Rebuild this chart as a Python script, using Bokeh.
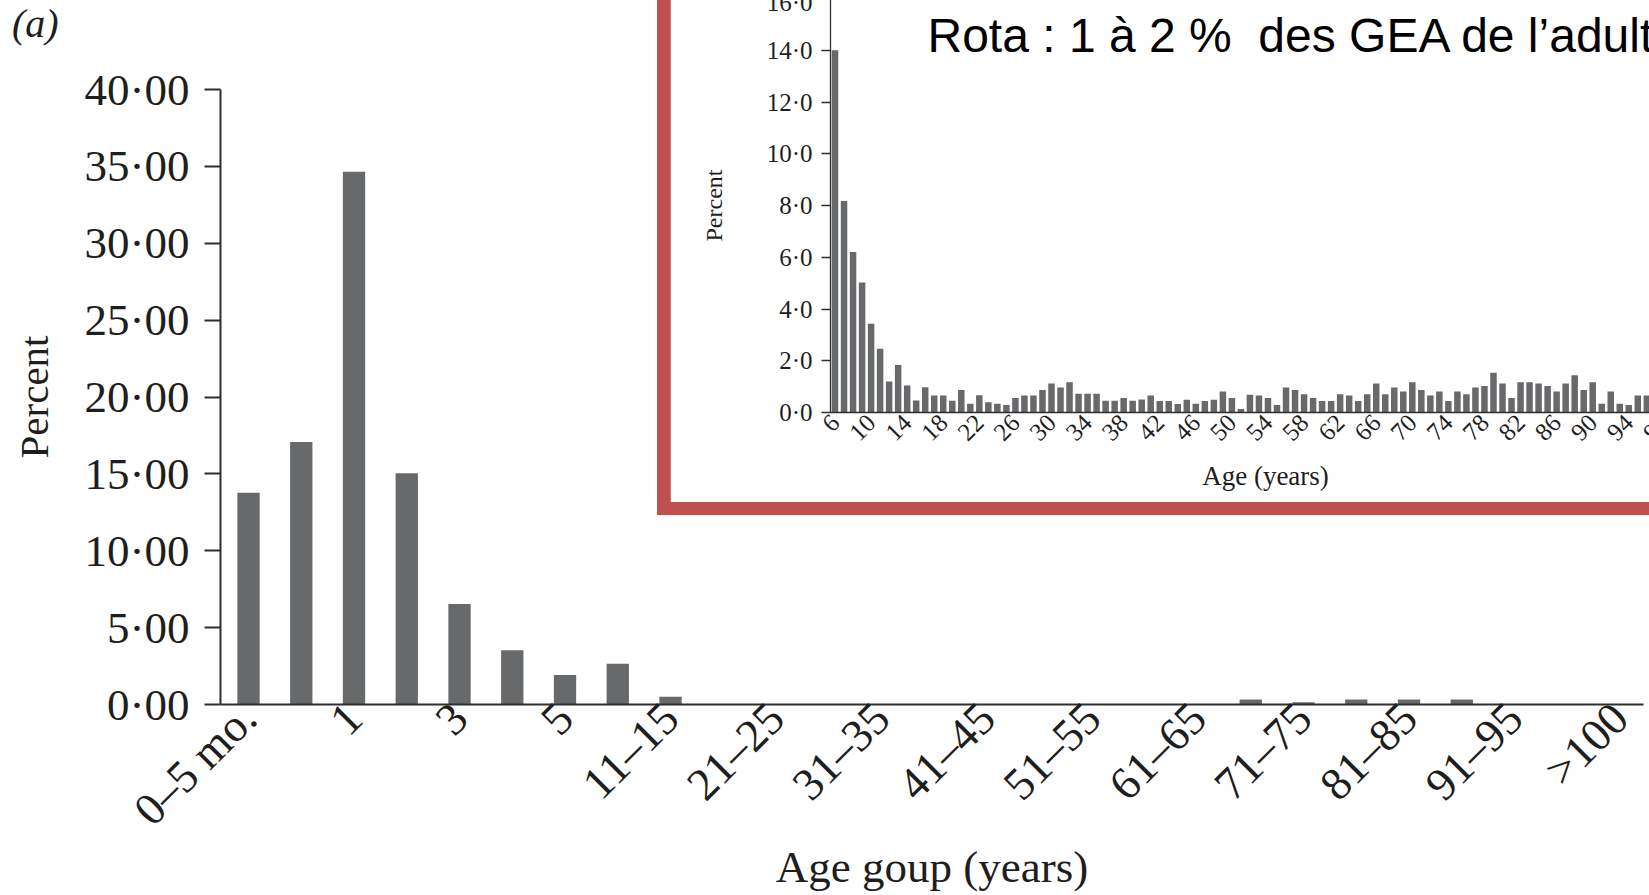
import math
from bokeh.plotting import figure
from bokeh.models import Range1d, FixedTicker, ColumnDataSource, Label, Div, GridBox, Column
from bokeh.embed import file_html
from bokeh.resources import INLINE

# ---------------- data ----------------
age_groups = ["0–5 mo.", "6–11 mo.", "1", "2", "3", "4", "5", "6–10", "11–15",
              "16–20", "21–25", "26–30", "31–35", "36–40", "41–45", "46–50",
              "51–55", "56–60", "61–65", "66–70", "71–75", "76–80", "81–85",
              "86–90", "91–95", "96–100", ">100"]
group_percent = [13.77, 17.07, 34.65, 15.04, 6.54, 3.53, 1.92, 2.65, 0.50,
                 0.0, 0.0, 0.0, 0.0, 0.0, 0.0, 0.0, 0.0, 0.0, 0.0,
                 0.32, 0.15, 0.32, 0.32, 0.32, 0.0, 0.0, 0.0]
main_y_ticks = [0, 5, 10, 15, 20, 25, 30, 35, 40]

inset_ages = list(range(6, 97))
inset_percent = [14.0, 8.17, 6.2, 5.02, 3.43, 2.46, 1.2, 1.84, 1.04, 0.46,   # 6-15
                 0.98, 0.66, 0.66, 0.45, 0.87, 0.34, 0.67, 0.40, 0.34, 0.29,  # 16-25
                 0.56, 0.66, 0.66, 0.87, 1.12, 0.97, 1.17, 0.72, 0.72, 0.72,  # 26-35
                 0.45, 0.45, 0.56, 0.45, 0.50, 0.66, 0.44, 0.44, 0.33, 0.49,  # 36-45
                 0.34, 0.44, 0.49, 0.81, 0.56, 0.14, 0.69, 0.66, 0.56, 0.29,  # 46-55
                 0.97, 0.87, 0.71, 0.56, 0.44, 0.44, 0.71, 0.66, 0.44, 0.71,  # 56-65
                 1.12, 0.71, 0.97, 0.81, 1.17, 0.87, 0.66, 0.81, 0.44, 0.81,  # 66-75
                 0.71, 0.97, 1.02, 1.54, 1.12, 0.56, 1.17, 1.17, 1.12, 1.02,  # 76-85
                 0.81, 1.12, 1.44, 0.87, 1.17, 0.34, 0.81, 0.34, 0.29, 0.66,  # 86-95
                 0.66]                                                        # 96
inset_x_ticks = list(range(6, 103, 4))
inset_y_ticks = [0, 2, 4, 6, 8, 10, 12, 14, 16]

BAR = "#68696b"
AXIS = "#2e2e2e"
TXT = "#1e1e1e"
SERIF = "Liberation Serif"

# ---------------- main chart ----------------
W, H = 1649, 895
src = ColumnDataSource(dict(x=list(range(len(age_groups))), top=group_percent))
p = figure(width=W, height=H, x_range=Range1d(-0.531, 26.445), y_range=Range1d(0, 40),
           output_backend="svg", toolbar_location=None,
           min_border_left=220, min_border_right=6, min_border_top=89, min_border_bottom=186)
p.vbar(x="x", top="top", width=0.423, source=src, fill_color=BAR, line_color=None)
p.grid.visible = False
p.outline_line_color = None
p.background_fill_color = "white"
p.border_fill_color = "white"

xa = p.xaxis[0]
xa.ticker = FixedTicker(ticks=list(range(0, len(age_groups), 2)))
xa.major_label_overrides = {i: age_groups[i] for i in range(0, len(age_groups), 2)}
xa.major_label_orientation = math.pi / 4
xa.major_tick_line_color = None
xa.major_tick_out = 0
xa.major_tick_in = 0
xa.minor_tick_line_color = None
xa.axis_line_color = AXIS
xa.axis_line_width = 2
xa.major_label_text_font = SERIF
xa.major_label_text_font_size = "46px"
xa.major_label_text_color = TXT
xa.major_label_standoff = 6
xa.axis_label = "Age goup (years)"
xa.axis_label_text_font = SERIF
xa.axis_label_text_font_size = "45px"
xa.axis_label_text_font_style = "normal"
xa.axis_label_text_color = TXT
xa.axis_label_standoff = -14

ya = p.yaxis[0]
ya.ticker = FixedTicker(ticks=main_y_ticks)
ya.major_label_overrides = {v: f"{v}·00" for v in main_y_ticks}
ya.major_tick_out = 16
ya.major_tick_in = 0
ya.major_tick_line_color = AXIS
ya.major_tick_line_width = 2
ya.minor_tick_line_color = None
ya.axis_line_color = AXIS
ya.axis_line_width = 2
ya.major_label_text_font = SERIF
ya.major_label_text_font_size = "45px"
ya.major_label_text_color = TXT
ya.major_label_standoff = 15
ya.axis_label = "Percent"
ya.axis_label_text_font = SERIF
ya.axis_label_text_font_size = "41px"
ya.axis_label_text_font_style = "normal"
ya.axis_label_text_color = TXT
ya.axis_label_standoff = 25

panel_tag = Div(text="(a)", width=70, height=46, margin=(4, 0, 0, 12),
                styles={"font-family": SERIF, "font-style": "italic", "font-size": "40px",
                        "line-height": "1", "color": TXT})

# ---------------- red frame ----------------
red = Div(width=992, height=515, styles={"background-color": "#c0504d"},
          margin=(0, 0, 0, 657))

# ---------------- inset chart ----------------
isrc = ColumnDataSource(dict(x=inset_ages, top=inset_percent))
q = figure(width=1030, height=514, x_range=Range1d(5.5, 101.95), y_range=Range1d(0, 16.0),
           output_backend="svg", toolbar_location=None,
           min_border_left=160, min_border_right=0, min_border_top=10, min_border_bottom=90,
           margin=(-12, 0, 0, 0))
q.vbar(x="x", top="top", width=0.72, source=isrc, fill_color=BAR, line_color=None)
q.grid.visible = False
q.outline_line_color = None
q.background_fill_color = "white"
q.border_fill_color = "white"

ixa = q.xaxis[0]
ixa.ticker = FixedTicker(ticks=inset_x_ticks)
ixa.major_label_orientation = math.pi / 4
ixa.major_tick_line_color = None
ixa.major_tick_out = 0
ixa.major_tick_in = 0
ixa.minor_tick_line_color = None
ixa.axis_line_color = AXIS
ixa.axis_line_width = 1.3
ixa.major_label_text_font = SERIF
ixa.major_label_text_font_size = "25px"
ixa.major_label_text_color = TXT
ixa.major_label_standoff = 6
ixa.axis_label = "Age (years)"
ixa.axis_label_text_font = SERIF
ixa.axis_label_text_font_size = "27px"
ixa.axis_label_text_font_style = "normal"
ixa.axis_label_text_color = TXT
ixa.axis_label_standoff = 10

iya = q.yaxis[0]
iya.ticker = FixedTicker(ticks=inset_y_ticks)
iya.major_label_overrides = {v: f"{v}·0" for v in inset_y_ticks}
iya.major_tick_out = 9
iya.major_tick_in = 0
iya.major_tick_line_color = AXIS
iya.major_tick_line_width = 1.3
iya.minor_tick_line_color = None
iya.axis_line_color = AXIS
iya.axis_line_width = 1.3
iya.major_label_text_font = SERIF
iya.major_label_text_font_size = "25px"
iya.major_label_text_color = TXT
iya.major_label_standoff = 9
iya.axis_label = "Percent"
iya.axis_label_text_font = SERIF
iya.axis_label_text_font_size = "24px"
iya.axis_label_text_font_style = "normal"
iya.axis_label_text_color = TXT
iya.axis_label_standoff = 37

q.add_layout(Label(x=97, y=377, x_units="screen", y_units="screen",
                   text="Rota : 1 à 2 %\u00a0 des GEA de l’adulte",
                   text_font="Liberation Sans", text_font_size="48px",
                   text_color="black", text_baseline="alphabetic"))

inset_box = Column(children=[q], margin=(0, 0, 0, 670))

layout = GridBox(children=[(p, 0, 0), (panel_tag, 0, 0), (red, 0, 0), (inset_box, 0, 0)],
                 width=W, height=H, styles={"overflow": "hidden"})
open("out.html", "w").write(file_html(layout, INLINE))
